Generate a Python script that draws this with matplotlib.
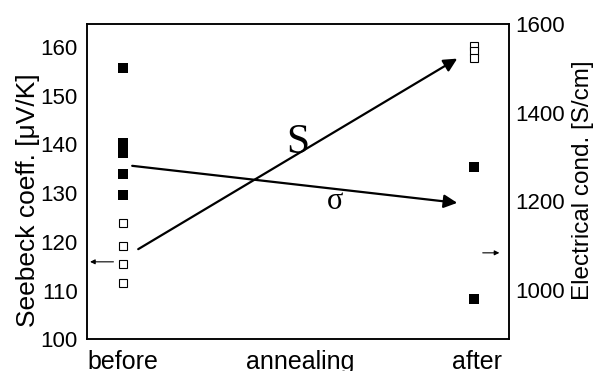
import matplotlib
matplotlib.use("Agg")
from matplotlib import pyplot as plt

plt.rcParams['font.family'] = ['Liberation Sans', 'DejaVu Sans']

# category positions on the annealing axis
x_labels = ['before', 'annealing', 'after']
x_ticks = [0, 0.5, 1]
x_before = 0.0
x_after = 0.99

# Seebeck coefficient [uV/K] (open squares, left axis)
seebeck_before = [123.8, 119.2, 115.4, 111.5]
seebeck_after = [160.2, 159.2, 157.8]

# electrical conductivity [S/cm] (filled squares, right axis)
cond_before = [1500, 1332, 1321, 1310, 1262, 1214]
cond_after = [1278, 981]

fig = plt.figure(figsize=(6.05, 3.71), dpi=100)
ax = fig.add_axes([0.1433, 0.0854, 0.6985, 0.8499])
ax2 = ax.twinx()

ax.plot([x_before] * len(seebeck_before), seebeck_before, 's', ms=6.3,
        mfc='white', mec='black', mew=0.8, zorder=3)
ax.plot([x_after] * len(seebeck_after), seebeck_after, 's', ms=6.3,
        mfc='white', mec='black', mew=0.8, zorder=3)
ax2.plot([x_before] * len(cond_before), cond_before, 's', ms=6.8,
         color='black', mew=0)
ax2.plot([x_after] * len(cond_after), cond_after, 's', ms=6.8,
         color='black', mew=0)

ax.set_xlim(-0.1025, 1.091)
ax.set_ylim(100, 164.7)
ax2.set_ylim(889, 1600)

ax.set_xticks(x_ticks)
ax.set_xticklabels(x_labels)
ax.set_yticks(range(100, 161, 10))
ax2.set_yticks(range(1000, 1601, 200))
ax.tick_params(axis='y', length=0, labelsize=16, pad=6.5)
ax.tick_params(axis='x', length=0, labelsize=18, pad=7.5)
ax2.tick_params(axis='y', length=0, labelsize=16, pad=4)

ax.set_ylabel('Seebeck coeff. [\u03bcV/K]', fontsize=19)
ax2.set_ylabel('Electrical cond. [S/cm]', fontsize=17.5)
ax.yaxis.set_label_coords(-0.111, 0.442)
ax2.yaxis.set_label_coords(1.148, 0.505)

for a in (ax, ax2):
    for s in a.spines.values():
        s.set_linewidth(1.1)

# trend arrows
big = dict(arrowstyle='-|>', color='black', lw=1.6, mutation_scale=20,
           shrinkA=0, shrinkB=0)
ax.annotate('', xy=(0.944, 157.6), xytext=(0.043, 118.5), arrowprops=big)
ax.annotate('', xy=(0.944, 128.0), xytext=(0.026, 135.6), arrowprops=big)
ax.text(0.495, 138.2, 'S', fontsize=30, family='Liberation Serif',
        ha='center', va='baseline')
ax.text(0.600, 126.8, '\u03c3', fontsize=22, family='Liberation Serif',
        ha='center', va='baseline')

# small arrows pointing to the matching axis
small = dict(arrowstyle='-|>', color='black', lw=0.8, mutation_scale=7,
             shrinkA=0, shrinkB=0)
ax.annotate('', xy=(-0.093, 115.9), xytext=(-0.027, 115.9), arrowprops=small)
ax2.annotate('', xy=(1.063, 1084), xytext=(1.016, 1084), arrowprops=small)

plt.savefig('out.png', dpi=100)
